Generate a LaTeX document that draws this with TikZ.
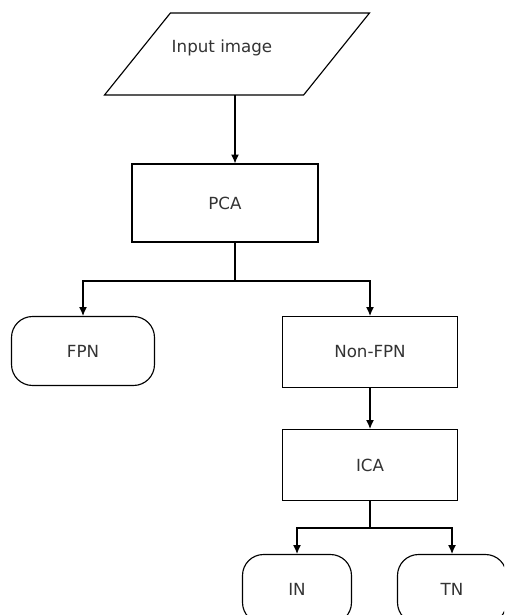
\documentclass[tikz,border=0pt]{standalone}
\usepackage{fontspec}
\setmainfont{DejaVu Sans}
\usetikzlibrary{shapes.misc,arrows.meta}

\tikzset{
  iobox/.style={rectangle, minimum width=3.96cm, minimum height=1.62cm, inner sep=0pt},
  procbox/.style={draw, rectangle, minimum width=3.5cm, minimum height=1.42cm, inner sep=0pt},
  termbox/.style={draw, rectangle, rounded corners=0.42cm,
    minimum width=2.18cm, minimum height=1.38cm, inner sep=0pt}
}

\begin{document}
\begin{tikzpicture}[>={Latex[length=5pt,width=4.5pt]}, x=0.02cm, y=-0.02cm,
  font=\fontsize{9.5}{11}\selectfont, text=black!80, line width=0.65pt]
  % Fix the frame of the picture
  \useasboundingbox (0,0) rectangle (504,615);
  \clip (0,0) rectangle (504,615);

  % Place the blocks
  \node[iobox] (input) at (237,54) {};
  \node (inputtext) at (222,48) {Input image};
  % Slanted outline of the input block
  \draw ([xshift=0.66cm]input.north west) -- ([xshift=0.66cm]input.north east)
    -- ([xshift=-0.66cm]input.south east) -- ([xshift=-0.66cm]input.south west) -- cycle;
  \node[procbox, minimum width=3.72cm, minimum height=1.56cm] (pca) at (225,203) {PCA};
  \node[termbox, minimum width=2.86cm] (fpn) at (83,351) {FPN};
  \node[procbox] (nonfpn) at (370,352) {Non-FPN};
  \node[procbox] (ica) at (370,465) {ICA};
  \node[termbox] (in) at (297,589) {IN};
  \node[termbox] (tn) at (452,589) {TN};

  % Define the points where the lines split
  \coordinate (split1) at (235,281);
  \coordinate (split2) at (nonfpn |- 0,528);

  % Draw the connectors
  \draw[->] (split1 |- input.south) -- (split1 |- pca.north);
  \draw (split1 |- pca.south) -- (split1);
  \draw[->] (split1) -| (fpn);
  \draw[->] (split1) -| (nonfpn);
  \draw[->] (nonfpn) -- (ica);
  \draw (ica) -- (split2);
  \draw[->] (split2) -| (in);
  \draw[->] (split2) -| (tn);
\end{tikzpicture}
\end{document}
